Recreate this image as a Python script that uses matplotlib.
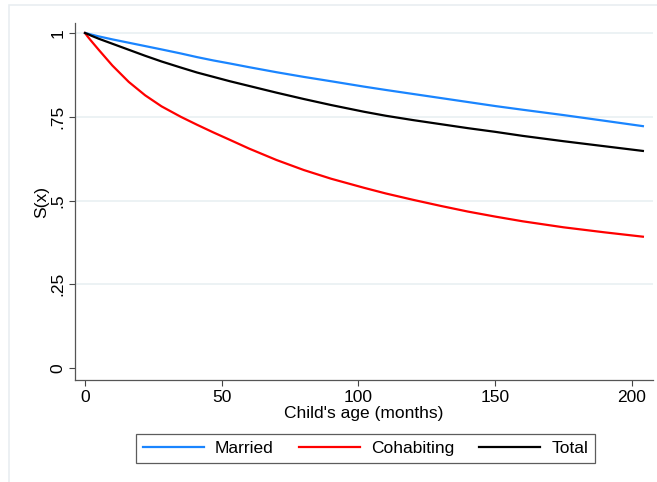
import matplotlib
matplotlib.use("Agg")
import matplotlib.pyplot as plt
from matplotlib.patches import Rectangle

plt.rcParams['font.family'] = ['Liberation Sans', 'DejaVu Sans']

# survival estimates (months, S(x))
months = [0, 1, 2, 5, 10, 16, 22, 28, 35, 41, 47, 53, 60, 70, 80, 90, 102,
          110, 120, 130, 140, 150, 160, 175, 190, 204]
married = [1.0, 0.998, 0.996, 0.990, 0.981, 0.971, 0.961, 0.951, 0.939, 0.928, 0.918, 0.909, 0.898,
           0.883, 0.869, 0.856, 0.840, 0.830, 0.818, 0.806, 0.794, 0.782, 0.771, 0.755, 0.738, 0.722]
cohabiting = [1.0, 0.989, 0.979, 0.950, 0.903, 0.854, 0.814, 0.781, 0.750, 0.726, 0.703, 0.681, 0.655,
              0.621, 0.591, 0.565, 0.538, 0.521, 0.502, 0.484, 0.467, 0.452, 0.438, 0.420, 0.405, 0.392]
total = [1.0, 0.997, 0.993, 0.983, 0.968, 0.950, 0.932, 0.915, 0.897, 0.882, 0.869, 0.856, 0.842,
         0.822, 0.803, 0.785, 0.765, 0.753, 0.740, 0.728, 0.716, 0.705, 0.693, 0.677, 0.662, 0.648]

series_names = ['Married', 'Cohabiting', 'Total']
x_ticks = [0, 50, 100, 150, 200]
y_ticks = [0, 0.25, 0.5, 0.75, 1]
y_ticklabels = ['0', '.25', '.5', '.75', '1']

fig = plt.figure(figsize=(6.57, 4.82), dpi=100)
# faint outer graph region border
fig.patches.append(Rectangle((9 / 657, -0.1), 1.2, 1 - 5 / 482 + 0.1,
                             transform=fig.transFigure, fill=False,
                             edgecolor='#e9eef1', linewidth=1.2))

ax = fig.add_axes([75 / 657, 1 - 380 / 482, (653 - 75) / 657, (380 - 23) / 482])

ax.plot(months, married, color='#1a85ff', lw=1.6, label=series_names[0])
ax.plot(months, cohabiting, color='#ff0000', lw=1.6, label=series_names[1])
ax.plot(months, total, color='#000000', lw=1.6, label=series_names[2])

ax.set_xlim(-3.66, 207.7)
ax.set_ylim(-0.0358, 1.0299)

ax.set_xticks(x_ticks)
ax.set_yticks(y_ticks)
ax.set_yticklabels(y_ticklabels, rotation=90, va='center')
ax.tick_params(axis='both', labelsize=12.5, length=4, width=0.8, color='#444444', pad=3)

for v in y_ticks[1:]:
    ax.axhline(v, color='#eaf1f3', lw=1.3, zorder=0)

for s in ['top', 'right']:
    ax.spines[s].set_visible(False)
for s in ['left', 'bottom']:
    ax.spines[s].set_color('#555555')
    ax.spines[s].set_linewidth(0.9)

ax.set_xlabel("Child's age (months)", fontsize=12.5, labelpad=1)
ax.set_ylabel("S(x)", fontsize=12.5, labelpad=1)

leg = fig.legend(loc='center', bbox_to_anchor=(365.5 / 657, 1 - 448.5 / 482), ncol=3,
                 fontsize=12.5, frameon=True, fancybox=False, handlelength=3.5,
                 columnspacing=1.45, handletextpad=0.65, borderpad=0.4)
leg.get_frame().set_edgecolor('#333333')
leg.get_frame().set_linewidth(0.9)

fig.savefig('out.png', dpi=100, facecolor='white')
